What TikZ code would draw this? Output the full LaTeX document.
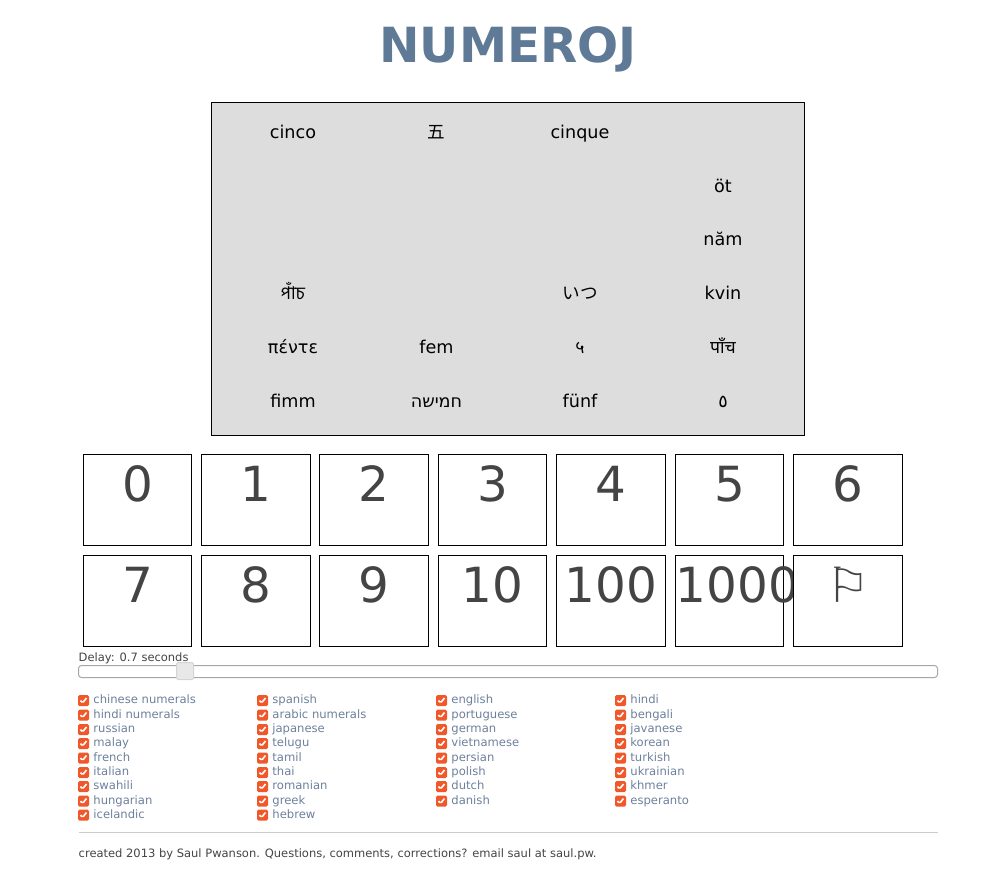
\documentclass[tikz,border=0pt]{standalone}
\usepackage{fontspec}
\setmainfont{DejaVu Sans}
\newfontfamily\devafont[Script=Devanagari]{Noto Sans}
\newfontfamily\bengfont[Script=Bengali]{Hind Siliguri}
\newfontfamily\cjkfont{Noto Sans CJK JP}
\newfontfamily\arabicfont[Script=Arabic]{DejaVu Sans}
\TeXXeTstate=1
\definecolor{titleblue}{HTML}{5F7A96}
\definecolor{langblue}{HTML}{6C809B}
\definecolor{darktext}{HTML}{444444}
\definecolor{panelgray}{HTML}{DDDDDD}
\definecolor{checkorange}{HTML}{F0582A}
\begin{document}
\begin{tikzpicture}[
    x=1pt,y=-1pt,
    title/.style={font=\fontsize{48.4}{48}\selectfont\bfseries,text=titleblue,inner sep=0pt},
    panel/.style={draw=black,line width=1pt,fill=panelgray,minimum width=593pt,minimum height=333pt,inner sep=0pt},
    word/.style={anchor=base,inner sep=0pt,font=\fontsize{17.6}{20}\selectfont},
    keybox/.style={draw=black,line width=1pt,fill=white,minimum width=108.5pt,minimum height=91pt,inner sep=0pt},
    digit/.style={font=\fontsize{48.4}{48}\selectfont,text=darktext,inner sep=0pt,yshift=16pt},
    track/.style={draw=black!35,line width=1pt,rounded corners=3pt,minimum width=859pt,minimum height=12pt,inner sep=0pt},
    handle/.style={draw=black!17,line width=1pt,fill=black!9,rounded corners=2pt,minimum width=17pt,minimum height=17pt,inner sep=0pt},
    small/.style={anchor=base west,inner sep=0pt,text=darktext,font=\fontsize{11.5}{14}\selectfont},
    lang/.style={inner sep=0pt,xshift=4pt,text=langblue,font=\fontsize{11.6}{14}\selectfont,text height=9pt,text depth=3pt},
    chk/.style={fill=checkorange,rounded corners=1.5pt,minimum size=11pt,inner sep=0pt,
        path picture={\draw[white,line width=1.6pt] ([shift={(-3,0)}]path picture bounding box.center)
            -- ([shift={(-1,2.5)}]path picture bounding box.center)
            -- ([shift={(3,-2.5)}]path picture bounding box.center);}}
]
\useasboundingbox (0,0) rectangle (986,871);

\node[title] (heading) at (508,49.5) {NUMEROJ};

\node[panel] (board) at (508,269) {};
\node[word] (es) at (293,138) {cinco};
\node[word] (zh) at (436.5,138) {\cjkfont 五};
\node[word] (it) at (580,138) {cinque};
\node[word] (hu) at (723,192.3) {öt};
\node[word] (vi) at (723,245.4) {năm};
\node[word] (bn) at (293,299) {\bengfont পাঁচ};
\node[word] (ja) at (580,299) {\cjkfont いつ};
\node[word] (eo) at (723,299) {kvin};
\node[word] (el) at (293,353) {πέντε};
\node[word] (da) at (436.5,353) {fem};
\node[word] (hn) at (580,353) {\devafont ५};
\node[word] (hi) at (723,353) {\devafont पाँच};
\node[word] (is) at (293,407.3) {fimm};
\node[word] (he) at (436.5,407.3) {\beginR חמישה\endR};
\node[word] (de) at (580,407.3) {fünf};
\node[word] (ar) at (723,407.3) {\arabicfont\beginR ٥\endR};

\node[keybox,label={[digit]center:0}] (k0) at (137.5,500) {};
\node[keybox,label={[digit]center:1}] (k1) at (256,500) {};
\node[keybox,label={[digit]center:2}] (k2) at (374,500) {};
\node[keybox,label={[digit]center:3}] (k3) at (492.5,500) {};
\node[keybox,label={[digit]center:4}] (k4) at (611,500) {};
\node[keybox,label={[digit]center:5}] (k5) at (729.5,500) {};
\node[keybox,label={[digit]center:6}] (k6) at (848,500) {};
\node[keybox,label={[digit]center:7}] (k7) at (137.5,601) {};
\node[keybox,label={[digit]center:8}] (k8) at (256,601) {};
\node[keybox,label={[digit]center:9}] (k9) at (374,601) {};
\node[keybox,label={[digit]center:10}] (k10) at (492.5,601) {};
\node[keybox,label={[digit]center:100}] (k100) at (611,601) {};
\node[keybox,label={[digit,xshift=8pt]center:1000}] (k1000) at (729.5,601) {};
\node[keybox,label={[digit]center:⚐}] (kflag) at (848,601) {};

\node[small] (delay) at (78.5,661.5) {Delay: 0.7 seconds};
\node[track] (slider) at (508,671.5) {};
\node[handle] (knob) at (185,671) {};

\node[chk,label={[lang]right:chinese numerals}] (c1) at (83.5,700.5) {};
\node[chk,label={[lang]right:hindi numerals}] (c2) at (83.5,715) {};
\node[chk,label={[lang]right:russian}] (c3) at (83.5,729.5) {};
\node[chk,label={[lang]right:malay}] (c4) at (83.5,743.5) {};
\node[chk,label={[lang]right:french}] (c5) at (83.5,758) {};
\node[chk,label={[lang]right:italian}] (c6) at (83.5,772.5) {};
\node[chk,label={[lang]right:swahili}] (c7) at (83.5,786.5) {};
\node[chk,label={[lang]right:hungarian}] (c8) at (83.5,801) {};
\node[chk,label={[lang]right:icelandic}] (c9) at (83.5,815) {};

\node[chk,label={[lang]right:spanish}] (d1) at (262.5,700.5) {};
\node[chk,label={[lang]right:arabic numerals}] (d2) at (262.5,715) {};
\node[chk,label={[lang]right:japanese}] (d3) at (262.5,729.5) {};
\node[chk,label={[lang]right:telugu}] (d4) at (262.5,743.5) {};
\node[chk,label={[lang]right:tamil}] (d5) at (262.5,758) {};
\node[chk,label={[lang]right:thai}] (d6) at (262.5,772.5) {};
\node[chk,label={[lang]right:romanian}] (d7) at (262.5,786.5) {};
\node[chk,label={[lang]right:greek}] (d8) at (262.5,801) {};
\node[chk,label={[lang]right:hebrew}] (d9) at (262.5,815) {};

\node[chk,label={[lang]right:english}] (e1) at (441.5,700.5) {};
\node[chk,label={[lang]right:portuguese}] (e2) at (441.5,715) {};
\node[chk,label={[lang]right:german}] (e3) at (441.5,729.5) {};
\node[chk,label={[lang]right:vietnamese}] (e4) at (441.5,743.5) {};
\node[chk,label={[lang]right:persian}] (e5) at (441.5,758) {};
\node[chk,label={[lang]right:polish}] (e6) at (441.5,772.5) {};
\node[chk,label={[lang]right:dutch}] (e7) at (441.5,786.5) {};
\node[chk,label={[lang]right:danish}] (e8) at (441.5,801) {};

\node[chk,label={[lang]right:hindi}] (f1) at (620.5,700.5) {};
\node[chk,label={[lang]right:bengali}] (f2) at (620.5,715) {};
\node[chk,label={[lang]right:javanese}] (f3) at (620.5,729.5) {};
\node[chk,label={[lang]right:korean}] (f4) at (620.5,743.5) {};
\node[chk,label={[lang]right:turkish}] (f5) at (620.5,758) {};
\node[chk,label={[lang]right:ukrainian}] (f6) at (620.5,772.5) {};
\node[chk,label={[lang]right:khmer}] (f7) at (620.5,786.5) {};
\node[chk,label={[lang]right:esperanto}] (f8) at (620.5,801) {};

\coordinate (rulea) at (78.5,832.5);
\coordinate (ruleb) at (938,832.5);
\draw[black!20,line width=1pt] (rulea) -- (ruleb);

\node[small] (footer) at (78.5,857) {created 2013 by Saul Pwanson. Questions, comments, corrections? email saul at saul.pw.};
\end{tikzpicture}
\end{document}
